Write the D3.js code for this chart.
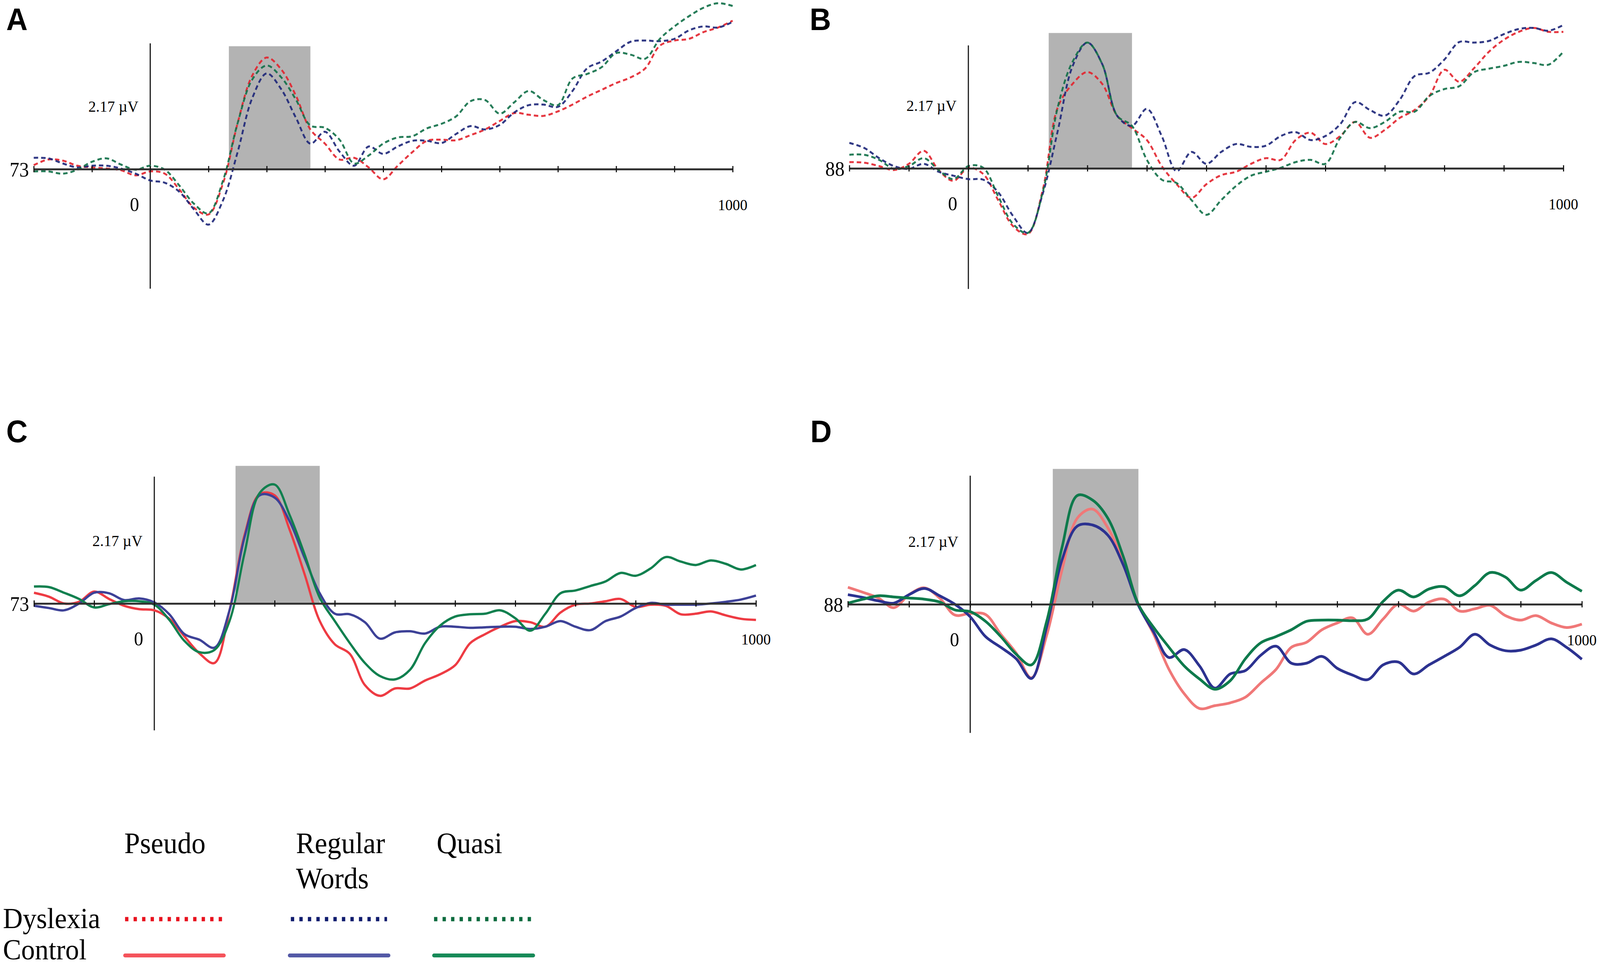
<!DOCTYPE html>
<html>
<head>
<meta charset="utf-8">
<script src="https://cdn.jsdelivr.net/npm/d3@7"></script>
<style>
  html, body { margin: 0; padding: 0; background: #fff; overflow: hidden; }
  svg { display: block; width: 100vw; height: 100vh; }
</style>
</head>
<body>
<svg id="chart"></svg>
<script>
// time points (ms), one every 25 ms
const times = [-200, -175, -150, -125, -100, -75, -50, -25,
  0, 25, 50, 75, 100, 125, 150, 175,
  200, 225, 250, 275, 300, 325, 350, 375,
  400, 425, 450, 475, 500, 525, 550, 575,
  600, 625, 650, 675, 700, 725, 750, 775,
  800, 825, 850, 875, 900, 925, 950, 975, 1000]
const xTicks = [-200, -100, 0, 100, 200, 300, 400, 500, 600, 700, 800, 900, 1000]

const panelIds = ['A', 'B', 'C', 'D']
const channels = ['73', '88', '73', '88']
const scaleLabel = '2.17 µV'
const shadeWindow = [135, 275]
const shadeTop = [2.17, 2.39, 2.43, 2.39]
const axisTop = [2.22, 2.17, 2.24, 2.27]
const axisBottom = [-2.11, -2.13, -2.24, -2.27]

const conditions = ['Pseudo', 'Regular Words', 'Quasi']
const groups = ['Dyslexia', 'Control']

// amplitudes in µV
const aPseudo = [0.07, 0.17, 0.15, 0.06, 0.03, 0.01, -0.02, -0.11,
  -0.04, -0.08, -0.36, -0.68, -0.80, -0.25, 0.81, 1.65,
  1.97, 1.76, 1.30, 0.70, 0.45, 0.17, 0.20, 0.03,
  -0.18, 0.06, 0.30, 0.50, 0.52, 0.51, 0.60, 0.70,
  0.85, 0.99, 0.96, 0.94, 1.02, 1.14, 1.28, 1.40,
  1.52, 1.62, 1.78, 2.18, 2.27, 2.30, 2.42, 2.50, 2.62]
const aRegular = [0.20, 0.19, 0.10, 0.03, 0.06, 0.06, 0.01, -0.08,
  -0.20, -0.24, -0.40, -0.71, -0.98, -0.55, 0.30, 1.25,
  1.69, 1.41, 0.91, 0.45, 0.66, 0.31, 0.06, 0.40,
  0.27, 0.40, 0.50, 0.50, 0.46, 0.62, 0.76, 0.70,
  0.78, 1.00, 1.13, 1.14, 1.10, 1.38, 1.78, 1.90,
  2.08, 2.25, 2.27, 2.26, 2.30, 2.45, 2.52, 2.50, 2.60]
const aQuasi = [-0.04, -0.04, -0.08, -0.01, 0.13, 0.19, 0.08, -0.01,
  0.06, -0.01, -0.29, -0.61, -0.78, -0.20, 0.81, 1.58,
  1.83, 1.62, 1.23, 0.77, 0.73, 0.52, 0.10, 0.24,
  0.45, 0.56, 0.58, 0.72, 0.80, 0.93, 1.20, 1.22,
  0.98, 1.18, 1.38, 1.22, 1.13, 1.60, 1.68, 1.80,
  2.05, 2.02, 1.95, 2.30, 2.52, 2.70, 2.85, 2.93, 2.88]

const bPseudo = [0.11, 0.10, 0.04, -0.03, 0.08, 0.31, -0.03, -0.22,
  0.01, -0.10, -0.56, -1.02, -1.16, -0.38, 1.07, 1.49,
  1.70, 1.49, 0.93, 0.71, 0.50, 0.04, -0.28, -0.52,
  -0.28, -0.12, -0.06, 0.08, 0.18, 0.15, 0.50, 0.63,
  0.43, 0.57, 0.82, 0.54, 0.68, 0.89, 1.03, 1.28,
  1.74, 1.53, 1.77, 2.06, 2.27, 2.41, 2.48, 2.41, 2.41]
const bRegular = [0.45, 0.36, 0.18, 0.04, -0.01, 0.08, -0.06, -0.13,
  -0.19, -0.20, -0.42, -0.84, -1.14, -0.45, 0.65, 1.80,
  2.22, 1.84, 0.93, 0.75, 1.05, 0.57, -0.05, 0.29,
  0.08, 0.29, 0.43, 0.38, 0.40, 0.57, 0.64, 0.50,
  0.57, 0.78, 1.17, 1.03, 0.93, 1.21, 1.63, 1.69,
  1.92, 2.23, 2.22, 2.25, 2.37, 2.46, 2.48, 2.43, 2.53]
const bQuasi = [0.24, 0.24, 0.15, -0.01, 0.04, 0.18, -0.03, -0.19,
  0.04, 0.01, -0.49, -0.98, -1.14, -0.42, 1.07, 1.88,
  2.22, 1.84, 0.93, 0.75, 0.15, -0.20, -0.26, -0.56,
  -0.82, -0.56, -0.31, -0.13, -0.06, 0.01, 0.11, 0.15,
  0.08, 0.54, 0.82, 0.71, 0.82, 1.00, 1.00, 1.28,
  1.40, 1.45, 1.70, 1.76, 1.81, 1.88, 1.86, 1.83, 2.06]

const cPseudo = [0.19, 0.12, 0.00, 0.03, 0.21, 0.08, -0.04, -0.10,
  -0.12, -0.27, -0.58, -0.88, -1.05, -0.12, 1.21, 1.93,
  1.91, 1.30, 0.51, -0.31, -0.72, -0.89, -1.44, -1.63,
  -1.50, -1.50, -1.36, -1.25, -1.09, -0.70, -0.54, -0.41,
  -0.31, -0.33, -0.41, -0.16, -0.02, 0.00, 0.04, 0.08,
  -0.06, -0.02, -0.04, -0.19, -0.18, -0.14, -0.21, -0.27, -0.29]
const cRegular = [-0.04, -0.08, -0.12, 0.00, 0.19, 0.18, 0.06, 0.09,
  0.02, -0.19, -0.54, -0.64, -0.78, -0.12, 1.17, 1.91,
  1.87, 1.45, 0.80, 0.18, -0.18, -0.19, -0.33, -0.62,
  -0.51, -0.49, -0.53, -0.41, -0.41, -0.43, -0.42, -0.41,
  -0.41, -0.45, -0.41, -0.31, -0.41, -0.47, -0.31, -0.23,
  -0.08, 0.01, -0.02, -0.02, -0.02, 0.00, 0.03, 0.07, 0.14]
const cQuasi = [0.30, 0.29, 0.19, 0.08, -0.07, -0.01, 0.04, 0.04,
  -0.02, -0.29, -0.66, -0.86, -0.82, -0.31, 0.89, 1.95,
  2.10, 1.56, 0.86, 0.10, -0.31, -0.70, -1.05, -1.28,
  -1.34, -1.17, -0.70, -0.39, -0.23, -0.19, -0.18, -0.12,
  -0.26, -0.48, -0.18, 0.18, 0.23, 0.31, 0.39, 0.54,
  0.49, 0.62, 0.82, 0.74, 0.68, 0.76, 0.70, 0.60, 0.68]

const dPseudo = [0.30, 0.21, 0.11, -0.06, 0.17, 0.29, 0.11, -0.19,
  -0.16, -0.18, -0.53, -0.86, -1.30, -0.55, 0.60, 1.52,
  1.68, 1.35, 0.75, 0.00, -0.53, -1.15, -1.58, -1.84,
  -1.79, -1.74, -1.64, -1.39, -1.15, -0.76, -0.67, -0.45,
  -0.33, -0.24, -0.53, -0.26, 0.00, -0.12, 0.04, 0.09,
  -0.12, -0.08, -0.02, -0.20, -0.28, -0.20, -0.33, -0.41, -0.35]
const dRegular = [0.17, 0.12, 0.06, 0.02, 0.17, 0.28, 0.15, 0.00,
  -0.22, -0.57, -0.76, -0.96, -1.31, -0.40, 0.78, 1.38,
  1.40, 1.22, 0.70, -0.02, -0.49, -0.94, -0.80, -1.09,
  -1.48, -1.23, -1.17, -0.90, -0.74, -1.04, -1.04, -0.92,
  -1.13, -1.25, -1.33, -1.07, -1.02, -1.23, -1.07, -0.92,
  -0.76, -0.53, -0.72, -0.82, -0.81, -0.72, -0.61, -0.76, -0.97]
const dQuasi = [0.02, 0.09, 0.15, 0.13, 0.11, 0.09, 0.04, -0.10,
  -0.13, -0.30, -0.57, -0.88, -1.07, -0.30, 1.00, 1.92,
  1.84, 1.52, 0.85, 0.00, -0.41, -0.76, -1.09, -1.32,
  -1.50, -1.35, -0.96, -0.68, -0.57, -0.45, -0.30, -0.28,
  -0.28, -0.29, -0.26, 0.05, 0.25, 0.13, 0.27, 0.31,
  0.15, 0.33, 0.56, 0.48, 0.25, 0.42, 0.56, 0.39, 0.23]

const panelSeries = [
  [aPseudo, aRegular, aQuasi],
  [bPseudo, bRegular, bQuasi],
  [cPseudo, cRegular, cQuasi],
  [dPseudo, dRegular, dQuasi]
]

// styling / layout (pixels in the 4324 x 2473 frame)
const width = 4324
const height = 2473
const pxPerUv = 145
const serif = '"Liberation Serif", "DejaVu Serif", serif'

const dysColors = ['#e2222c', '#1c2578', '#0f6f47']
const panelStyle = [
  { dashed: true, colors: dysColors, width: 5 },
  { dashed: true, colors: dysColors, width: 5 },
  { dashed: false, colors: ['#ee3b43', '#3d4197', '#11804f'], width: 6 },
  { dashed: false, colors: ['#f07878', '#2c3290', '#0e7a4c'], width: 7 }
]
const layout = [
  { x0: 406, x1: 1980, base: 433, lx: 17, ly: 77 },
  { x0: 2617, x1: 4225, base: 431, lx: 2188, ly: 77 },
  { x0: 417, x1: 2043, base: 1545, lx: 17, ly: 1132 },
  { x0: 2622, x1: 4275, base: 1547, lx: 2190, ly: 1132 }
]

// the frame is stretched over the whole window, whatever its real size
const svg = d3.select('#chart')
  .attr('viewBox', `0 0 ${width} ${height}`)
  .attr('preserveAspectRatio', 'none')

svg.append('rect')
  .attr('width', width)
  .attr('height', height)
  .attr('fill', '#fff')

const drawPanel = (i) => {
  const L = layout[i]
  const st = panelStyle[i]
  const per100 = (L.x1 - L.x0) / 10
  const x = d3.scaleLinear()
    .domain([-200, 1000])
    .range([L.x0 - 2 * per100, L.x1])
  const y = d3.scaleLinear()
    .domain([-2.17, 2.17])
    .range([L.base + 2.17 * pxPerUv, L.base - 2.17 * pxPerUv])

  const g = svg.append('g').attr('class', `panel panel-${panelIds[i]}`)

  // analysis window
  g.append('rect')
    .attr('x', x(shadeWindow[0]))
    .attr('width', x(shadeWindow[1]) - x(shadeWindow[0]))
    .attr('y', y(shadeTop[i]))
    .attr('height', y(0) - y(shadeTop[i]))
    .attr('fill', '#b3b3b3')

  // vertical axis
  g.append('line')
    .attr('x1', x(0)).attr('x2', x(0))
    .attr('y1', y(axisTop[i])).attr('y2', y(axisBottom[i]))
    .attr('stroke', '#111')
    .attr('stroke-width', 3)

  const line = d3.line()
    .x((d, j) => x(times[j]))
    .y(d => y(d))
    .curve(d3.curveCatmullRom.alpha(0.5))

  g.selectAll('path.wave')
    .data(panelSeries[i])
    .enter().append('path')
    .attr('class', 'wave')
    .attr('d', line)
    .attr('fill', 'none')
    .attr('stroke', (d, k) => st.colors[k])
    .attr('stroke-width', st.width)
    .attr('stroke-dasharray', st.dashed ? '12 8' : null)
    .attr('stroke-linejoin', 'round')
    .attr('opacity', st.dashed ? 0.9 : 1)

  // horizontal axis
  const axis = d3.axisBottom(x)
    .tickValues(xTicks)
    .tickSize(8)
    .tickSizeOuter(0)
    .tickFormat('')
  const ax = g.append('g')
    .attr('transform', `translate(0,${y(0)})`)
    .call(axis)
  ax.select('.domain')
    .attr('stroke', '#333')
    .attr('stroke-width', 5)
  ax.selectAll('.tick line')
    .attr('y1', -8).attr('y2', 8)
    .attr('stroke', '#111')
    .attr('stroke-width', 3)

  // labels
  g.append('text')
    .attr('x', x(-200) - 13)
    .attr('y', y(0) + 2)
    .attr('text-anchor', 'end')
    .attr('dominant-baseline', 'central')
    .style('font-family', serif)
    .style('font-size', '52px')
    .text(channels[i])

  g.append('text')
    .attr('x', x(0) - 30)
    .attr('y', y(0) + 91)
    .attr('text-anchor', 'end')
    .attr('dominant-baseline', 'central')
    .style('font-family', serif)
    .style('font-size', '50px')
    .text('0')

  g.append('text')
    .attr('x', x(1000))
    .attr('y', y(0) + 91)
    .attr('text-anchor', 'middle')
    .attr('dominant-baseline', 'central')
    .style('font-family', serif)
    .style('font-size', '40px')
    .text('1000')

  g.append('text')
    .attr('x', x(0) - 32)
    .attr('y', y(1.11))
    .attr('text-anchor', 'end')
    .attr('dominant-baseline', 'central')
    .style('font-family', serif)
    .style('font-size', '41px')
    .text(scaleLabel)

  g.append('text')
    .attr('x', L.lx)
    .attr('y', L.ly)
    .style('font-family', '"Liberation Sans", Arial, sans-serif')
    .style('font-weight', 'bold')
    .style('font-size', '80px')
    .text(panelIds[i])
}

panelIds.forEach((id, i) => drawPanel(i))

// legend
const legend = svg.append('g').attr('class', 'legend')
const legendCols = [
  { textX: 336, dashX: [338, 600], solidX: [338, 605] },
  { textX: 800, dashX: [786, 1046], solidX: [783, 1050] },
  { textX: 1180, dashX: [1173, 1435], solidX: [1173, 1441] }
]
const legendDysColors = ['#e8121e', '#101c6e', '#0c6b3e']
const legendCtlColors = ['#f5535b', '#5359a6', '#178a58']

conditions.forEach((c, k) => {
  const words = c.split(' ')
  const t = legend.append('text')
    .attr('x', legendCols[k].textX)
    .attr('y', 2184)
    .style('font-family', serif)
    .style('font-size', '76px')
  words.forEach((w, n) => {
    t.append('tspan')
      .attr('x', legendCols[k].textX)
      .attr('dy', n === 0 ? 0 : 90)
      .text(w)
  })

  legend.append('line')
    .attr('x1', legendCols[k].dashX[0]).attr('x2', legendCols[k].dashX[1])
    .attr('y1', 2353).attr('y2', 2353)
    .attr('stroke', legendDysColors[k])
    .attr('stroke-width', 11)
    .attr('stroke-dasharray', '9 14')

  legend.append('line')
    .attr('x1', legendCols[k].solidX[0]).attr('x2', legendCols[k].solidX[1])
    .attr('y1', 2446).attr('y2', 2446)
    .attr('stroke', legendCtlColors[k])
    .attr('stroke-width', 10)
    .attr('stroke-linecap', 'round')
})

groups.forEach((gName, n) => {
  legend.append('text')
    .attr('x', 8)
    .attr('y', n === 0 ? 2376 : 2456)
    .style('font-family', serif)
    .style('font-size', '74px')
    .text(gName)
})
</script>
</body>
</html>
